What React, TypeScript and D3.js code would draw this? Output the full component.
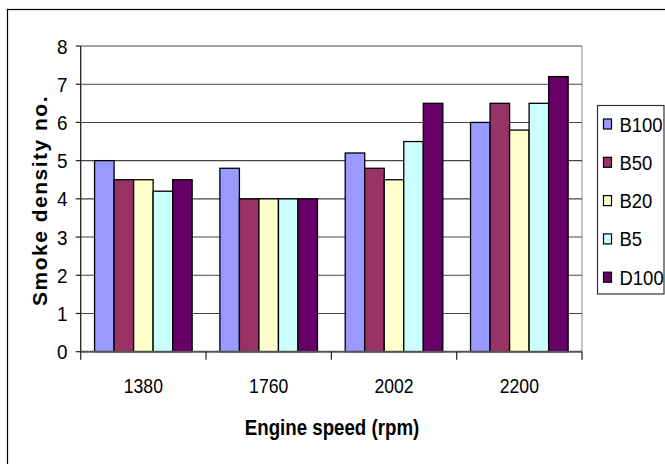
import React from 'react';
import * as d3 from 'd3';

// chart data
const speeds = ['1380', '1760', '2002', '2200'];
const fuels = ['B100', 'B50', 'B20', 'B5', 'D100'];
const B100 = [5.0, 4.8, 5.2, 6.0];
const B50 = [4.5, 4.0, 4.8, 6.5];
const B20 = [4.5, 4.0, 4.5, 5.8];
const B5 = [4.2, 4.0, 5.5, 6.5];
const D100 = [4.5, 4.0, 6.5, 7.2];
const yTicks = [0, 1, 2, 3, 4, 5, 6, 7, 8];
const fuelColors = ['#9999FF', '#993366', '#FFFFCC', '#CCFFFF', '#660066'];

const seriesValues: Record<string, number[]> = { B100, B50, B20, B5, D100 };

const W = 665;
const H = 464;
const FONT = '"Liberation Sans", Arial, sans-serif';

// text squeezed horizontally, like the narrow look of the original
const NText: React.FC<{
  x: number;
  y: number;
  k?: number;
  size: number;
  anchor?: string;
  bold?: boolean;
  children: React.ReactNode;
}> = ({ x, y, k = 1, size, anchor = 'middle', bold = false, children }) => (
  <text
    transform={`translate(${x},${y}) scale(${k},1)`}
    textAnchor={anchor}
    fontFamily={FONT}
    fontSize={size}
    fontWeight={bold ? 'bold' : 'normal'}
    fill="#000"
  >
    {children}
  </text>
);

const App: React.FC = () => {
  const left = 80.7;
  const right = 582;
  const top = 46;
  const bottom = 351.7;

  const x0 = d3.scaleBand<string>().domain(speeds).range([left, right]).padding(0);
  const x1 = d3
    .scaleBand<string>()
    .domain(fuels)
    .range([0, x0.bandwidth()])
    .paddingInner(0)
    .paddingOuter(0.71);
  const y = d3.scaleLinear().domain([0, 8]).range([bottom, top]);
  const color = d3.scaleOrdinal<string, string>().domain(fuels).range(fuelColors);

  const legendTop = 124;
  const legendStep = 38.3;

  return (
    <svg
      width={W}
      height={H}
      style={{ position: 'absolute', left: 0, top: 0, background: '#fff' }}
    >
      <rect x={0} y={0} width={W} height={H} fill="#fff" />
      {/* outer chart border, runs off the right and bottom */}
      <rect x={7.5} y={9.5} width={W + 20} height={H + 20} fill="none" stroke="#000" strokeWidth={1.2} />

      {/* plot area frame */}
      <line x1={right} x2={right} y1={top} y2={bottom} stroke="#a0a0a0" strokeWidth={1.2} />

      {/* gridlines */}
      {yTicks.slice(1).map((t) => (
        <line key={`g${t}`} x1={left} x2={right} y1={y(t)} y2={y(t)} stroke="#444" strokeWidth={1.1} />
      ))}

      {/* bars */}
      {speeds.map((s, i) => (
        <g key={s} transform={`translate(${x0(s)},0)`}>
          {fuels.map((f) => (
            <rect
              key={f}
              x={x1(f)}
              y={y(seriesValues[f][i])}
              width={x1.bandwidth()}
              height={y(0) - y(seriesValues[f][i])}
              fill={color(f)}
              stroke="#000"
              strokeWidth={1.3}
            />
          ))}
        </g>
      ))}

      {/* axes */}
      <line x1={left} x2={left} y1={top} y2={bottom} stroke="#222" strokeWidth={1.3} />
      <line x1={left} x2={right} y1={bottom} y2={bottom} stroke="#555" strokeWidth={2} />
      {yTicks.map((t) => (
        <g key={`yt${t}`}>
          <line x1={left - 5} x2={left} y1={y(t)} y2={y(t)} stroke="#222" strokeWidth={1.2} />
          <NText x={67.5} y={y(t) + 7.6} size={21} k={0.9} anchor="end">
            {t}
          </NText>
        </g>
      ))}
      {[...speeds.map((s) => x0(s) as number), right].map((xv, i) => (
        <line key={`xt${i}`} x1={xv} x2={xv} y1={bottom} y2={bottom + 8} stroke="#222" strokeWidth={1.2} />
      ))}
      {speeds.map((s) => (
        <NText key={`xl${s}`} x={(x0(s) as number) + x0.bandwidth() / 2} y={393} size={21} k={0.84}>
          {s}
        </NText>
      ))}

      {/* axis titles */}
      <NText x={332} y={435} size={22} k={0.85} bold>
        Engine speed (rpm)
      </NText>
      <text
        transform="translate(46.5,200.5) rotate(-90)"
        textAnchor="middle"
        fontFamily={FONT}
        fontSize={21}
        fontWeight="bold"
        letterSpacing={1.5}
      >
        Smoke density no.
      </text>

      {/* legend */}
      <rect x={597.5} y={105.5} width={66.5} height={188.5} fill="#fff" stroke="#333" strokeWidth={1.2} />
      {fuels.map((f, i) => {
        const cy = legendTop + i * legendStep;
        return (
          <g key={`lg${f}`}>
            <rect x={603.5} y={cy - 5} width={8} height={10} fill={color(f)} stroke="#000" strokeWidth={1.2} />
            <NText x={619.5} y={cy + 7.5} size={21} k={0.88} anchor="start">
              {f}
            </NText>
          </g>
        );
      })}
    </svg>
  );
};

export default App;
